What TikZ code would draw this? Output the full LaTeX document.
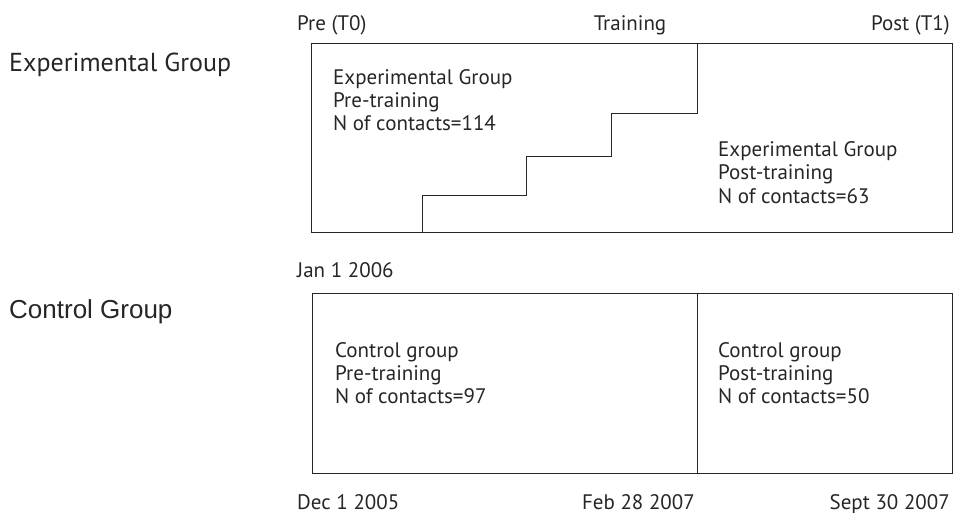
\documentclass[tikz,border=0pt]{standalone}
\usepackage{fontspec}
\setmainfont{PT Sans}
\newfontfamily\arialfont{Liberation Sans}
\begin{document}
\begin{tikzpicture}[x=1pt,y=-1pt,
  lbl/.style={inner sep=0pt,anchor=base west,font=\fontsize{21}{24}\selectfont,text=black!85},
  lblr/.style={lbl,anchor=base east},
  grp/.style={inner sep=0pt,anchor=base west,font=\fontsize{26}{30}\selectfont,text=black!85},
  frame/.style={draw=black!85,line width=1pt}]
\useasboundingbox (0,0) rectangle (955,513);
% left labels
\node[grp] (ge) at (9,72) {Experimental Group};
\node[grp,font=\arialfont\fontsize{26}{30}\selectfont] (gc) at (9,318) {Control Group};
% top time labels
\node[lbl] (pre) at (297,31) {Pre (T0)};
\node[lbl,anchor=base] (tr) at (630,31) {Training};
\node[lblr] (post) at (950,31) {Post (T1)};
% experimental box
\coordinate (eNW) at (311,44);
\coordinate (eSE) at (952,232);
\draw[frame] (eNW) rectangle (eSE);
\coordinate (s0) at (422,232);
\coordinate (s1) at (697,44);
\draw[frame] (s0) |- (526,196) |- (611,157) |- (697,114) -- (s1);
\node[lbl] (e1) at (333,85) {Experimental Group};
\node[lbl] (e2) at (333,108) {Pre-training};
\node[lbl] (e3) at (333,131) {N of contacts=114};
\node[lbl] (p1) at (718,157) {Experimental Group};
\node[lbl] (p2) at (718,180) {Post-training};
\node[lbl] (p3) at (718,204) {N of contacts=63};
% control box
\node[lbl] (jan) at (297,277) {Jan 1 2006};
\coordinate (cNW) at (312,293);
\coordinate (cSE) at (952,473);
\draw[frame] (cNW) rectangle (cSE);
\coordinate (d0) at (697,293);
\coordinate (d1) at (697,473);
\draw[frame] (d0) -- (d1);
\node[lbl] (c1) at (335,357) {Control group};
\node[lbl] (c2) at (335,380) {Pre-training};
\node[lbl] (c3) at (335,403) {N of contacts=97};
\node[lbl] (q1) at (718,357) {Control group};
\node[lbl] (q2) at (718,380) {Post-training};
\node[lbl] (q3) at (718,403) {N of contacts=50};
% bottom dates
\node[lbl] (dec) at (297,509) {Dec 1 2005};
\node[lblr] (feb) at (695,509) {Feb 28 2007};
\node[lblr] (sep) at (950,509) {Sept 30 2007};
\end{tikzpicture}
\end{document}
